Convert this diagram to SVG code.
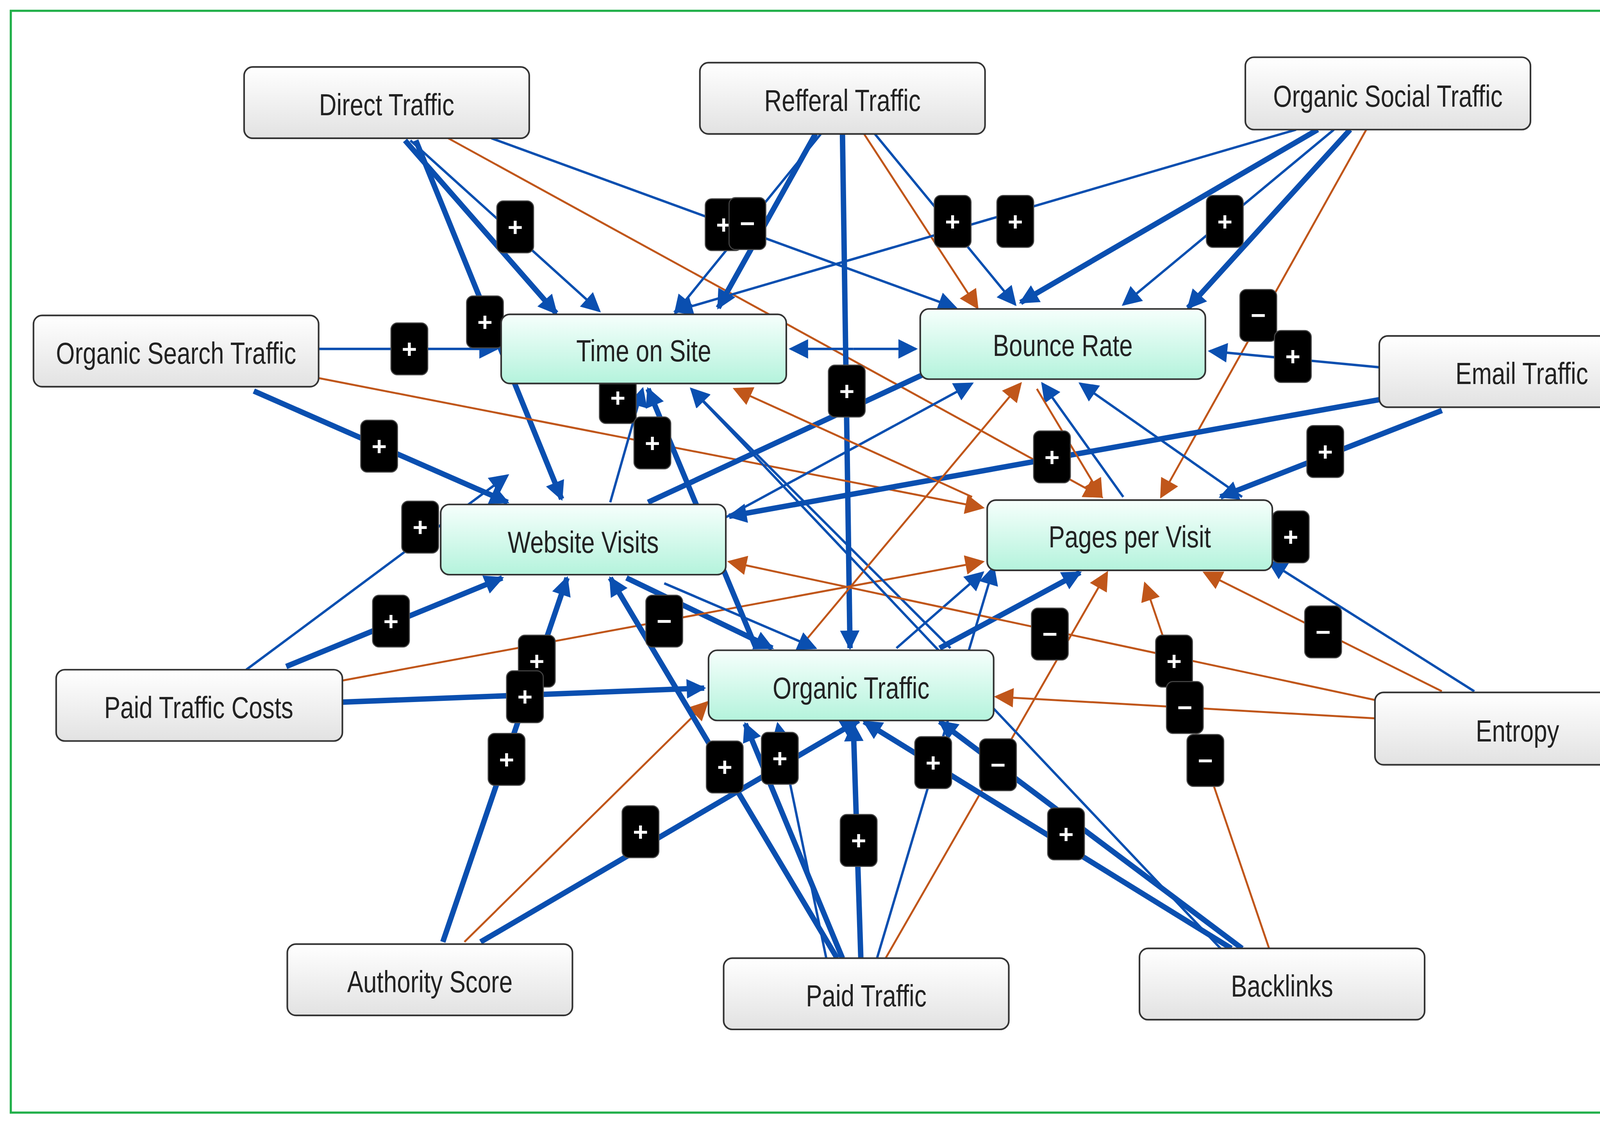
<svg xmlns="http://www.w3.org/2000/svg" width="4335" height="2872" viewBox="0 0 4335 2872">
<defs>
<linearGradient id="gg" x1="0" y1="0" x2="0" y2="1"><stop offset="0" stop-color="#ffffff"/><stop offset="1" stop-color="#e2e2e2"/></linearGradient>
<linearGradient id="mg" x1="0" y1="0" x2="0" y2="1"><stop offset="0" stop-color="#f6fffc"/><stop offset="1" stop-color="#b4f3dc"/></linearGradient>
<marker id="ab" viewBox="0 0 10 10" refX="9" refY="5" markerWidth="22" markerHeight="18" markerUnits="userSpaceOnUse" orient="auto"><path d="M0,0L10,5L0,10z" fill="#0a4fb0"/></marker>
<marker id="ao" viewBox="0 0 10 10" refX="9" refY="5" markerWidth="22" markerHeight="18" markerUnits="userSpaceOnUse" orient="auto"><path d="M0,0L10,5L0,10z" fill="#c0561a"/></marker>
<style>
.b{stroke:#0a4fb0;stroke-width:2.2;fill:none;marker-end:url(#ab)}
.t{stroke:#0a4fb0;stroke-width:5;fill:none;marker-end:url(#ab)}
.o{stroke:#c0561a;stroke-width:1.8;fill:none;marker-end:url(#ao)}
.g rect{fill:url(#gg);stroke:#333;stroke-width:1.5}
.m rect{fill:url(#mg);stroke:#333;stroke-width:1.5}
.n text{font-family:"Liberation Sans Narrow","Liberation Sans",Arial,sans-serif;font-size:28px;fill:#222;text-anchor:middle;dominant-baseline:central}
.k rect{fill:#000;stroke:#444;stroke-width:1}
.k text{font-family:"Liberation Sans",Arial,sans-serif;font-size:24px;font-weight:bold;fill:#fff;text-anchor:middle;dominant-baseline:central}
</style>
</defs>
<rect x="0" y="0" width="4335" height="2872" fill="#fff"/>
<g transform="scale(2.765)">
<rect x="10" y="10" width="1547" height="1020" fill="none" stroke="#22b04a" stroke-width="2"/>
<g id="connectors">
<line class="b" x1="380" y1="130" x2="555" y2="288"/>
<line class="t" x1="385" y1="130" x2="520" y2="462"/>
<line class="t" x1="375" y1="130" x2="515" y2="290"/>
<line class="o" x1="415" y1="128" x2="1020" y2="460"/>
<line class="b" x1="455" y1="128" x2="885" y2="285"/>
<line class="b" x1="760" y1="124" x2="625" y2="290"/>
<line class="t" x1="780" y1="124" x2="787" y2="600"/>
<line class="b" x1="810" y1="124" x2="940" y2="282"/>
<line class="o" x1="800" y1="124" x2="905" y2="285"/>
<line class="t" x1="755" y1="124" x2="665" y2="285"/>
<line class="b" x1="1200" y1="120" x2="625" y2="288"/>
<line class="t" x1="1220" y1="120" x2="945" y2="280"/>
<line class="b" x1="1235" y1="120" x2="1040" y2="282"/>
<line class="t" x1="1250" y1="120" x2="1100" y2="285"/>
<line class="o" x1="1265" y1="120" x2="1075" y2="460"/>
<line class="b" x1="295" y1="323" x2="460" y2="323"/>
<line class="t" x1="235" y1="362" x2="470" y2="465"/>
<line class="o" x1="295" y1="350" x2="910" y2="470"/>
<line class="b" x1="790" y1="323" x2="732" y2="323"/>
<line class="b" x1="790" y1="323" x2="848" y2="323"/>
<line class="b" x1="1277" y1="340" x2="1120" y2="325"/>
<line class="t" x1="1277" y1="370" x2="675" y2="478"/>
<line class="t" x1="1335" y1="380" x2="1130" y2="460"/>
<line class="b" x1="565" y1="465" x2="595" y2="360"/>
<line class="t" x1="600" y1="465" x2="880" y2="335"/>
<line class="t" x1="580" y1="535" x2="715" y2="600"/>
<line class="b" x1="670" y1="480" x2="900" y2="355"/>
<line class="b" x1="228" y1="620" x2="470" y2="440"/>
<line class="t" x1="265" y1="617" x2="465" y2="535"/>
<line class="t" x1="317" y1="650" x2="652" y2="637"/>
<line class="o" x1="317" y1="630" x2="910" y2="520"/>
<line class="t" x1="700" y1="600" x2="600" y2="360"/>
<line class="t" x1="870" y1="600" x2="1000" y2="530"/>
<line class="b" x1="830" y1="600" x2="910" y2="530"/>
<line class="b" x1="880" y1="600" x2="640" y2="360"/>
<line class="o" x1="740" y1="600" x2="945" y2="355"/>
<line class="b" x1="615" y1="540" x2="755" y2="600"/>
<line class="b" x1="1150" y1="460" x2="1000" y2="355"/>
<line class="b" x1="1040" y1="460" x2="965" y2="355"/>
<line class="o" x1="960" y1="360" x2="1020" y2="460"/>
<line class="o" x1="900" y1="460" x2="680" y2="360"/>
<line class="o" x1="1273" y1="665" x2="922" y2="645"/>
<line class="o" x1="1273" y1="648" x2="675" y2="520"/>
<line class="o" x1="1335" y1="640" x2="1115" y2="530"/>
<line class="b" x1="1365" y1="640" x2="1175" y2="520"/>
<line class="t" x1="410" y1="872" x2="525" y2="535"/>
<line class="t" x1="445" y1="872" x2="795" y2="667"/>
<line class="o" x1="430" y1="872" x2="655" y2="650"/>
<line class="t" x1="797" y1="887" x2="790" y2="670"/>
<line class="t" x1="780" y1="887" x2="690" y2="670"/>
<line class="t" x1="775" y1="887" x2="565" y2="535"/>
<line class="b" x1="812" y1="887" x2="920" y2="525"/>
<line class="o" x1="820" y1="887" x2="1025" y2="530"/>
<line class="b" x1="765" y1="887" x2="720" y2="670"/>
<line class="t" x1="1140" y1="878" x2="800" y2="668"/>
<line class="t" x1="1150" y1="878" x2="870" y2="668"/>
<line class="o" x1="1175" y1="878" x2="1060" y2="540"/>
<line class="b" x1="1130" y1="878" x2="640" y2="360"/>
<g class="k">
<g transform="translate(477,210)"><rect x="-17" y="-24" width="34" height="48" rx="6"/><text>+</text></g>
<g transform="translate(449,298)"><rect x="-17" y="-24" width="34" height="48" rx="6"/><text>+</text></g>
<g transform="translate(670,208)"><rect x="-17" y="-24" width="34" height="48" rx="6"/><text>+</text></g>
<g transform="translate(692,207)"><rect x="-17" y="-24" width="34" height="48" rx="6"/><text>−</text></g>
<g transform="translate(882,205)"><rect x="-17" y="-24" width="34" height="48" rx="6"/><text>+</text></g>
<g transform="translate(940,205)"><rect x="-17" y="-24" width="34" height="48" rx="6"/><text>+</text></g>
<g transform="translate(1134,205)"><rect x="-17" y="-24" width="34" height="48" rx="6"/><text>+</text></g>
<g transform="translate(1165,292)"><rect x="-17" y="-24" width="34" height="48" rx="6"/><text>−</text></g>
<g transform="translate(1197,330)"><rect x="-17" y="-24" width="34" height="48" rx="6"/><text>+</text></g>
<g transform="translate(379,323)"><rect x="-17" y="-24" width="34" height="48" rx="6"/><text>+</text></g>
<g transform="translate(351,413)"><rect x="-17" y="-24" width="34" height="48" rx="6"/><text>+</text></g>
<g transform="translate(784,362)"><rect x="-17" y="-24" width="34" height="48" rx="6"/><text>+</text></g>
<g transform="translate(572,368)"><rect x="-17" y="-24" width="34" height="48" rx="6"/><text>+</text></g>
<g transform="translate(604,410)"><rect x="-17" y="-24" width="34" height="48" rx="6"/><text>+</text></g>
<g transform="translate(974,423)"><rect x="-17" y="-24" width="34" height="48" rx="6"/><text>+</text></g>
<g transform="translate(1227,418)"><rect x="-17" y="-24" width="34" height="48" rx="6"/><text>+</text></g>
<g transform="translate(1195,497)"><rect x="-17" y="-24" width="34" height="48" rx="6"/><text>+</text></g>
<g transform="translate(389,488)"><rect x="-17" y="-24" width="34" height="48" rx="6"/><text>+</text></g>
<g transform="translate(362,575)"><rect x="-17" y="-24" width="34" height="48" rx="6"/><text>+</text></g>
<g transform="translate(615,575)"><rect x="-17" y="-24" width="34" height="48" rx="6"/><text>−</text></g>
<g transform="translate(972,587)"><rect x="-17" y="-24" width="34" height="48" rx="6"/><text>−</text></g>
<g transform="translate(1225,585)"><rect x="-17" y="-24" width="34" height="48" rx="6"/><text>−</text></g>
<g transform="translate(497,612)"><rect x="-17" y="-24" width="34" height="48" rx="6"/><text>+</text></g>
<g transform="translate(486,645)"><rect x="-17" y="-24" width="34" height="48" rx="6"/><text>+</text></g>
<g transform="translate(1087,612)"><rect x="-17" y="-24" width="34" height="48" rx="6"/><text>+</text></g>
<g transform="translate(1097,655)"><rect x="-17" y="-24" width="34" height="48" rx="6"/><text>−</text></g>
<g transform="translate(469,703)"><rect x="-17" y="-24" width="34" height="48" rx="6"/><text>+</text></g>
<g transform="translate(671,710)"><rect x="-17" y="-24" width="34" height="48" rx="6"/><text>+</text></g>
<g transform="translate(722,702)"><rect x="-17" y="-24" width="34" height="48" rx="6"/><text>+</text></g>
<g transform="translate(864,706)"><rect x="-17" y="-24" width="34" height="48" rx="6"/><text>+</text></g>
<g transform="translate(924,708)"><rect x="-17" y="-24" width="34" height="48" rx="6"/><text>−</text></g>
<g transform="translate(1116,704)"><rect x="-17" y="-24" width="34" height="48" rx="6"/><text>−</text></g>
<g transform="translate(593,770)"><rect x="-17" y="-24" width="34" height="48" rx="6"/><text>+</text></g>
<g transform="translate(795,778)"><rect x="-17" y="-24" width="34" height="48" rx="6"/><text>+</text></g>
<g transform="translate(987,772)"><rect x="-17" y="-24" width="34" height="48" rx="6"/><text>+</text></g>
</g>
</g>
<g id="n-direct" class="n g"><rect x="226" y="62" width="264" height="66" rx="8"/><text transform="translate(358,97) scale(0.8,1)">Direct Traffic</text></g>
<g id="n-refferal" class="n g"><rect x="648" y="58" width="264" height="66" rx="8"/><text transform="translate(780,93) scale(0.8,1)">Refferal Traffic</text></g>
<g id="n-social" class="n g"><rect x="1153" y="53" width="264" height="67" rx="8"/><text transform="translate(1285,89) scale(0.8,1)">Organic Social Traffic</text></g>
<g id="n-search" class="n g"><rect x="31" y="292" width="264" height="66" rx="8"/><text transform="translate(163,327) scale(0.8,1)">Organic Search Traffic</text></g>
<g id="n-email" class="n g"><rect x="1277" y="311" width="264" height="66" rx="8"/><text transform="translate(1409,346) scale(0.8,1)">Email Traffic</text></g>
<g id="n-ptc" class="n g"><rect x="52" y="620" width="265" height="66" rx="8"/><text transform="translate(184,655) scale(0.8,1)">Paid Traffic Costs</text></g>
<g id="n-entropy" class="n g"><rect x="1273" y="641" width="265" height="67" rx="8"/><text transform="translate(1405,677) scale(0.8,1)">Entropy</text></g>
<g id="n-authority" class="n g"><rect x="266" y="874" width="264" height="66" rx="8"/><text transform="translate(398,909) scale(0.8,1)">Authority Score</text></g>
<g id="n-paid" class="n g"><rect x="670" y="887" width="264" height="66" rx="8"/><text transform="translate(802,922) scale(0.8,1)">Paid Traffic</text></g>
<g id="n-backlinks" class="n g"><rect x="1055" y="878" width="264" height="66" rx="8"/><text transform="translate(1187,913) scale(0.8,1)">Backlinks</text></g>
<g id="n-time" class="n m"><rect x="464" y="291" width="264" height="64" rx="8"/><text transform="translate(596,325) scale(0.8,1)">Time on Site</text></g>
<g id="n-bounce" class="n m"><rect x="852" y="286" width="264" height="65" rx="8"/><text transform="translate(984,320) scale(0.8,1)">Bounce Rate</text></g>
<g id="n-visits" class="n m"><rect x="408" y="467" width="264" height="65" rx="8"/><text transform="translate(540,502) scale(0.8,1)">Website Visits</text></g>
<g id="n-ppv" class="n m"><rect x="914" y="463" width="264" height="65" rx="8"/><text transform="translate(1046,497) scale(0.8,1)">Pages per Visit</text></g>
<g id="n-organic" class="n m"><rect x="656" y="602" width="264" height="65" rx="8"/><text transform="translate(788,637) scale(0.8,1)">Organic Traffic</text></g>
</g>
</svg>
